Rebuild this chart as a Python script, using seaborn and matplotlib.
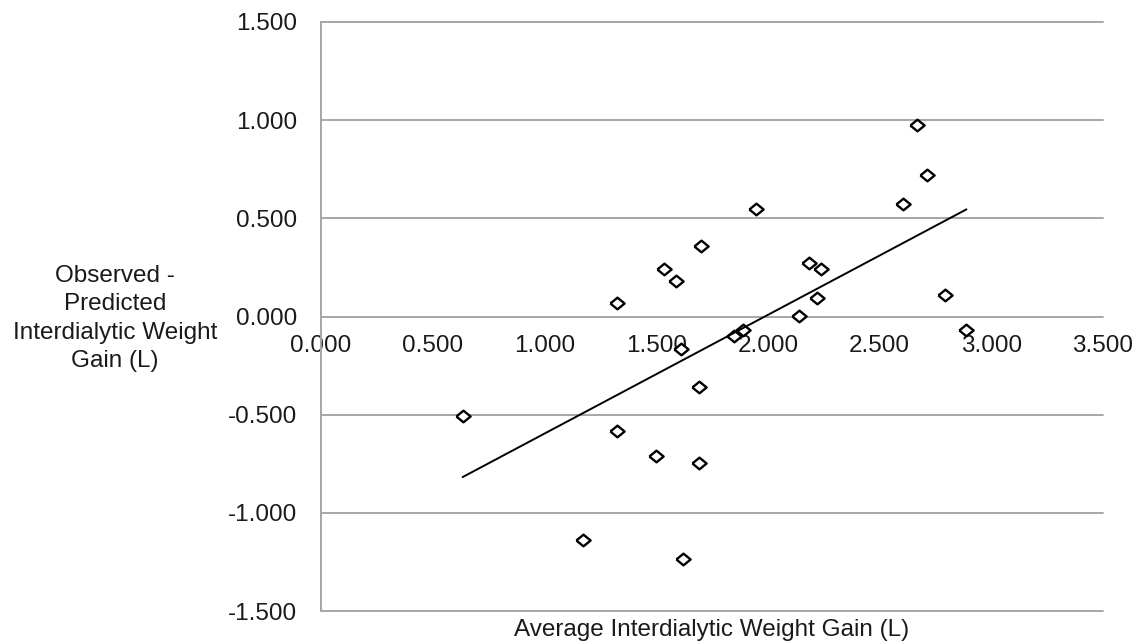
import matplotlib
matplotlib.use("Agg")
import matplotlib.pyplot as plt
import seaborn as sns
import numpy as np
import pandas as pd

# Data
avg_idwg = [0.634, 1.171, 1.326, 1.326, 1.499, 1.536, 1.591, 1.611, 1.621, 1.691,
            1.691, 1.700, 1.849, 1.890, 1.945, 2.140, 2.183, 2.218, 2.240, 2.603,
            2.668, 2.714, 2.792, 2.889]
obs_minus_pred = [-0.509, -1.138, 0.070, -0.585, -0.709, 0.243, 0.179, -0.165, -1.236, -0.357,
                  -0.748, 0.359, -0.097, -0.071, 0.546, 0.005, 0.270, 0.095, 0.243, 0.571,
                  0.974, 0.723, 0.107, -0.068]
x_ticks = [0.0, 0.5, 1.0, 1.5, 2.0, 2.5, 3.0, 3.5]
y_ticks = [-1.5, -1.0, -0.5, 0.0, 0.5, 1.0, 1.5]

df = pd.DataFrame({"x": avg_idwg, "y": obs_minus_pred})

sns.set_theme(style="white")
plt.rcParams["font.family"] = ["Liberation Sans", "DejaVu Sans"]

W, H = 1137, 643
fig = plt.figure(figsize=(W / 100, H / 100), dpi=100)
L, R, T, B = 321, 1103, 22, 611
ax = fig.add_axes([L / W, 1 - B / H, (R - L) / W, (B - T) / H])

grid_col = "#a6a6a6"
text_col = "#1a1a1a"
fs = 17.5
diamond = [(-1, 0), (0, 0.82), (1, 0), (0, -0.82), (-1, 0)]

sns.scatterplot(data=df, x="x", y="y", ax=ax, marker=diamond, s=105,
                facecolor="white", edgecolor="black", linewidth=1.7, zorder=3)
sns.regplot(data=df, x="x", y="y", ax=ax, scatter=False, ci=None, truncate=True,
            line_kws=dict(color="black", linewidth=1.4, zorder=4))

ax.set_xlim(0, 3.5)
ax.set_ylim(-1.5, 1.5)
ax.set_xticks(x_ticks)
ax.set_yticks(y_ticks)
ax.set_xticklabels([f"{v:.3f}" for v in x_ticks])
ax.set_yticklabels([f"{v:.3f}" for v in y_ticks])

ax.yaxis.grid(True, color=grid_col, linewidth=1.4)
ax.xaxis.grid(False)
for g in ax.get_ygridlines():
    g.set_clip_on(False)

for s in ["top", "right"]:
    ax.spines[s].set_visible(False)
ax.spines["bottom"].set_position(("data", 0))
ax.spines["bottom"].set_visible(False)
ax.spines["left"].set_color(grid_col)
ax.spines["left"].set_linewidth(1.4)

ax.tick_params(axis="x", length=0, pad=13, labelsize=fs, colors=text_col)
ax.tick_params(axis="y", length=0, pad=17, labelsize=fs, colors=text_col)

ax.set_xlabel("Average Interdialytic Weight Gain (L)", fontsize=fs, color=text_col)
ax.xaxis.set_label_coords((712 - L) / (R - L), (B - 630) / (B - T))
ax.xaxis.label.set_va("center")

ax.set_ylabel("Observed -\nPredicted\nInterdialytic Weight\nGain (L)", fontsize=fs,
              rotation=0, ha="center", va="center", linespacing=1.38, color=text_col)
ax.yaxis.set_label_coords((115 - L) / (R - L), (B - 318.5) / (B - T))

fig.savefig("out.png", dpi=100)
